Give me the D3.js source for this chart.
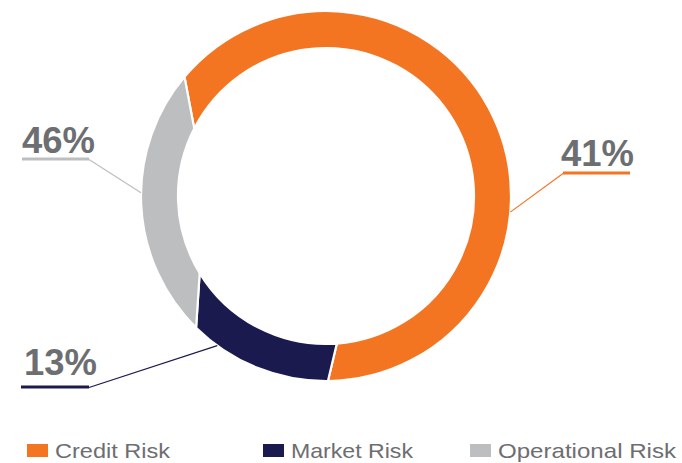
<!DOCTYPE html>
<html>
<head>
<meta charset="utf-8">
<script src="https://cdn.jsdelivr.net/npm/d3@7"></script>
<style>
  body { margin: 0; background: #fff; }
  svg { display: block; }
</style>
</head>
<body>
<div id="donut"></div>
<script>
// Data
const categories = ["Credit Risk", "Market Risk", "Operational Risk"];
const shares = [65, 15, 20];            // arc sizes as drawn in the picture
const labels = ["41%", "13%", "46%"];   // printed callout values
const colors = ["#F47521", "#1B1A4E", "#BCBEC0"];

const width = 682;
const height = 463;
const center = { x: 326, y: 196 };
const outerRadius = 185;
const innerRadius = 148;
const startAngle = -56.4 * Math.PI / 180;
// the seams in the original are slightly slanted, not radial (degrees, per slice start)
const seamTilt = [6.5, 1.8, -7];

// Callout placement (label box + where the leader hits the ring)
const callouts = [
  { text: labels[0], x: 561, y: 166, lineX1: 563, lineX2: 630, lineY: 173, hitAngle: 95,  side: "left" },
  { text: labels[1], x: 24,  y: 375, lineX1: 21,  lineX2: 89,  lineY: 387, hitAngle: 216, side: "right" },
  { text: labels[2], x: 22,  y: 153, lineX1: 22,  lineX2: 89,  lineY: 159, hitAngle: 271, side: "right" }
];

const data = categories.map((c, i) => ({ category: c, share: shares[i], color: colors[i], callout: callouts[i] }));

const svg = d3.select("#donut")
  .append("svg")
    .attr("width", width)
    .attr("height", height);

/****************************/
/*     Draw the donut       */
/****************************/
const pie = d3.pie()
  .sort(null)
  .value(d => d.share)
  .startAngle(startAngle)
  .endAngle(startAngle + 2 * Math.PI);

const rad = deg => deg * Math.PI / 180;

const slicePath = (d, i) => {
  const t0 = rad(seamTilt[i]);
  const t1 = rad(seamTilt[(i + 1) % seamTilt.length]);
  const a0o = d.startAngle + t0, a1o = d.endAngle + t1;
  const a0i = d.startAngle - t0, a1i = d.endAngle - t1;
  const p = d3.path();
  p.moveTo(outerRadius * Math.sin(a0o), -outerRadius * Math.cos(a0o));
  p.arc(0, 0, outerRadius, a0o - Math.PI / 2, a1o - Math.PI / 2);
  p.lineTo(innerRadius * Math.sin(a1i), -innerRadius * Math.cos(a1i));
  p.arc(0, 0, innerRadius, a1i - Math.PI / 2, a0i - Math.PI / 2, true);
  p.closePath();
  return p.toString();
};

const donut = svg
  .append("g")
    .attr("transform", `translate(${center.x}, ${center.y})`);

donut
  .selectAll(".slice")
  .data(pie(data))
  .join("path")
    .attr("class", "slice")
    .attr("d", slicePath)
    .attr("fill", d => d.data.color)
    .attr("stroke", "#fff")
    .attr("stroke-width", 2.2);

/****************************/
/*       Callouts           */
/****************************/
const callout = svg
  .selectAll(".callout")
  .data(data)
  .join("g")
    .attr("class", "callout");

callout
  .append("text")
    .attr("x", d => d.callout.x)
    .attr("y", d => d.callout.y)
    .attr("font-family", "'Liberation Sans', Arial, sans-serif")
    .attr("font-weight", "bold")
    .attr("font-size", 37)
    .attr("fill", "#6D6E71")
    .attr("textLength", 73)
    .attr("lengthAdjust", "spacingAndGlyphs")
    .text(d => d.callout.text);

callout
  .append("line")
    .attr("x1", d => d.callout.lineX1)
    .attr("x2", d => d.callout.lineX2)
    .attr("y1", d => d.callout.lineY)
    .attr("y2", d => d.callout.lineY)
    .attr("stroke", d => d.color)
    .attr("stroke-width", 3);

callout
  .append("line")
    .attr("x1", d => d.callout.side === "left" ? d.callout.lineX1 : d.callout.lineX2)
    .attr("y1", d => d.callout.lineY + 0.5)
    .attr("x2", d => center.x + outerRadius * Math.sin(rad(d.callout.hitAngle)))
    .attr("y2", d => center.y - outerRadius * Math.cos(rad(d.callout.hitAngle)))
    .attr("stroke", d => d.color)
    .attr("stroke-width", 1.2);

/****************************/
/*         Legend           */
/****************************/
const legendX = [27, 263, 470];
const legendTextLength = [115, 122, 178];

const legend = svg
  .selectAll(".legend-item")
  .data(data)
  .join("g")
    .attr("class", "legend-item")
    .attr("transform", (d, i) => `translate(${legendX[i]}, 444)`);

legend
  .append("rect")
    .attr("width", 21)
    .attr("height", 13)
    .attr("fill", d => d.color);

legend
  .append("text")
    .attr("x", 28)
    .attr("y", 14)
    .attr("font-family", "'Liberation Sans', Arial, sans-serif")
    .attr("font-size", 21)
    .attr("fill", "#6D6E71")
    .attr("textLength", (d, i) => legendTextLength[i])
    .attr("lengthAdjust", "spacingAndGlyphs")
    .text(d => d.category);
</script>
</body>
</html>
